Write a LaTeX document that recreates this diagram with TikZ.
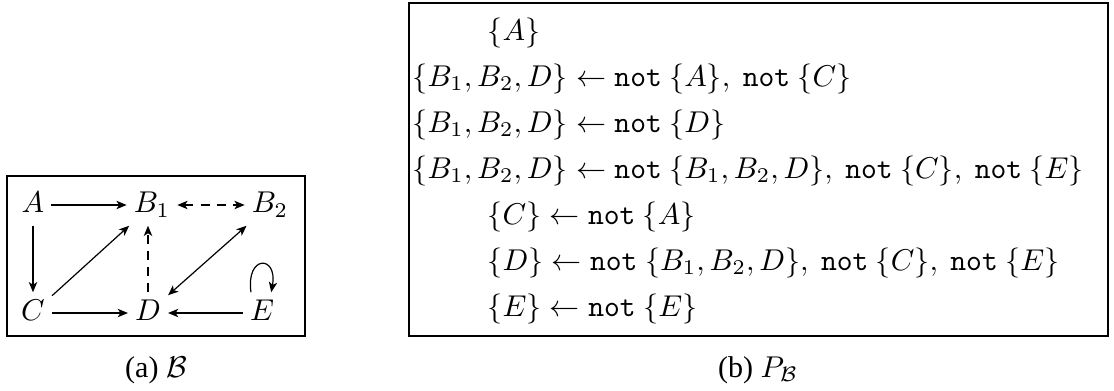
\documentclass[tikz,border=0pt]{standalone}
\usepackage{fontspec}
\setmainfont{Liberation Serif}
\newfontfamily\capfont{Liberation Serif}
\usetikzlibrary{arrows.meta}
\newlength\px
\newcommand\nt{\texttt{not}\ }
\AtBeginDocument{\fontsize{10}{12}\selectfont\settowidth\px{$\{B_1, B_2, D\} \leftarrow \nt\{B_1, B_2, D\},\ \nt\{C\},\ \nt\{E\}$}\setlength\px{\dimexpr\px/671\relax}}
\begin{document}
\begin{tikzpicture}[x=1\px,y=-1\px,
  gnode/.style={inner sep=2.2pt,text height=7pt,text depth=2pt},
  arr/.style={line width=0.4pt,-{Stealth[length=3.4pt,width=2.8pt,inset=0.9pt]}},
  darr/.style={line width=0.4pt,{Stealth[length=3.4pt,width=2.8pt,inset=0.9pt]}-{Stealth[length=3.4pt,width=2.8pt,inset=0.9pt]}},
  dsh/.style={dash pattern=on 3pt off 2.4pt},
  frame/.style={line width=0.5pt},
  rowtxt/.style={anchor=base west,inner sep=0pt},
  captxt/.style={anchor=base,inner sep=0pt,font=\capfont}]
\useasboundingbox (0,0) rectangle (1114,390);
% left box
\coordinate (la) at (7,176);
\coordinate (lb) at (305,336);
\draw[frame] (la) rectangle (lb);
\node[gnode] (A) at (33,205) {$A$};
\node[gnode] (B1) at (152,205) {$B_1$};
\node[gnode] (B2) at (270,205) {$B_2$};
\node[gnode] (C) at (33,313) {$C$};
\node[gnode] (D) at (148,313) {$D$};
\node[gnode] (E) at (262,313) {$E$};
\draw[arr] (A) -- (B1);
\draw[darr,dsh] (B1) -- (B2);
\draw[arr] (A) -- (C);
\draw[arr] (C) -- (B1);
\draw[arr,dsh] (D.north) -- (D.north |- B1.south);
\draw[darr] (D) -- (B2);
\draw[arr] (C) -- (D);
\draw[arr] (E) -- (D);
\draw[arr] (E.118) .. controls +(-98:38) and +(-80:38) .. (E.66);
\node[captxt] (capa) at (156,377) {(a) $\mathcal{B}$};
% right box
\coordinate (ra) at (409,3);
\coordinate (rb) at (1108,336);
\draw[frame] (ra) rectangle (rb);
\node[rowtxt] (r1) at (487,40) {$\{A\}$};
\node[rowtxt] (r2) at (412,86) {$\{B_1, B_2, D\} \leftarrow \nt\{A\},\ \nt\{C\}$};
\node[rowtxt] (r3) at (412,132) {$\{B_1, B_2, D\} \leftarrow \nt\{D\}$};
\node[rowtxt] (r4) at (412,178) {$\{B_1, B_2, D\} \leftarrow \nt\{B_1, B_2, D\},\ \nt\{C\},\ \nt\{E\}$};
\node[rowtxt] (r5) at (487,224) {$\{C\} \leftarrow \nt\{A\}$};
\node[rowtxt] (r6) at (487,270) {$\{D\} \leftarrow \nt\{B_1, B_2, D\},\ \nt\{C\},\ \nt\{E\}$};
\node[rowtxt] (r7) at (487,316) {$\{E\} \leftarrow \nt\{E\}$};
\node[captxt] (capb) at (758,377) {(b) $P_{\mathcal{B}}$};
\end{tikzpicture}
\end{document}
